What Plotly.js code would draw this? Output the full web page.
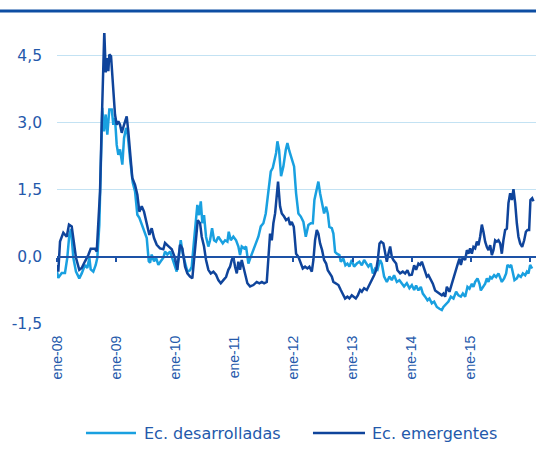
<!DOCTYPE html>
<html><head><meta charset="utf-8">
<script src="https://cdn.plot.ly/plotly-3.0.1.min.js"></script>
<style>html,body{margin:0;padding:0;background:#fff}</style>
</head><body><div id="chart" style="width:536px;height:461px"></div>
<script>
const seriesNames = ['Ec. desarrolladas', 'Ec. emergentes'];
const yearTicks = [2008, 2009, 2010, 2011, 2012, 2013, 2014, 2015, 2016];
const yearLabels = ['ene-08', 'ene-09', 'ene-10', 'ene-11', 'ene-12', 'ene-13', 'ene-14', 'ene-15', 'ene-16'];
const yTicks = [-1.5, 0, 1.5, 3, 4.5];
const yTickLabels = ['-1,5', '0,0', '1,5', '3,0', '4,5'];

const desarrolladasT = [2008.000,2008.022,2008.080,2008.135,2008.174,2008.208,2008.237,2008.276,2008.321,2008.377,
2008.418,2008.474,2008.513,2008.547,2008.570,2008.614,2008.655,2008.682,2008.716,2008.745,
2008.766,2008.795,2008.824,2008.851,2008.885,2008.926,2008.953,2008.981,2009.010,2009.037,
2009.066,2009.105,2009.134,2009.168,2009.196,2009.235,2009.281,2009.320,2009.359,2009.393,
2009.433,2009.472,2009.518,2009.552,2009.574,2009.602,2009.641,2009.675,2009.714,2009.755,
2009.799,2009.827,2009.866,2009.912,2009.958,2009.997,2010.025,2010.064,2010.093,2010.127,
2010.166,2010.205,2010.250,2010.279,2010.318,2010.347,2010.374,2010.403,2010.432,2010.459,
2010.487,2010.521,2010.560,2010.589,2010.623,2010.657,2010.690,2010.729,2010.770,2010.804,
2010.843,2010.882,2010.905,2010.939,2010.983,2011.029,2011.068,2011.096,2011.125,2011.164,
2011.198,2011.237,2011.277,2011.321,2011.367,2011.406,2011.447,2011.491,2011.531,2011.558,
2011.587,2011.616,2011.650,2011.677,2011.706,2011.728,2011.756,2011.790,2011.829,2011.870,
2011.897,2011.931,2011.971,2011.988,2012.010,2012.044,2012.083,2012.124,2012.168,2012.208,
2012.252,2012.293,2012.327,2012.354,2012.394,2012.421,2012.450,2012.489,2012.518,2012.552,
2012.580,2012.607,2012.648,2012.675,2012.704,2012.733,2012.777,2012.800,2012.844,2012.878,
2012.912,2012.946,2012.986,2013.025,2013.071,2013.115,2013.156,2013.195,2013.228,2013.267,
2013.308,2013.342,2013.381,2013.420,2013.465,2013.494,2013.533,2013.579,2013.623,2013.663,
2013.702,2013.748,2013.792,2013.832,2013.871,2013.917,2013.961,2014.002,2014.041,2014.074,
2014.113,2014.154,2014.188,2014.227,2014.266,2014.299,2014.340,2014.379,2014.425,2014.469,
2014.509,2014.536,2014.582,2014.621,2014.662,2014.706,2014.751,2014.790,2014.831,2014.865,
2014.904,2014.943,2014.977,2015.017,2015.044,2015.073,2015.112,2015.146,2015.169,2015.203,
2015.242,2015.271,2015.298,2015.327,2015.355,2015.394,2015.428,2015.467,2015.496,2015.524,
2015.563,2015.597,2015.619,2015.653,2015.682,2015.711,2015.738,2015.778,2015.805,2015.846,
2015.880,2015.919,2015.948,2015.975,2016.003,2016.037];
const desarrolladasV = [-0.33,-0.47,-0.36,-0.36,-0.02,0.49,0.62,-0.02,-0.33,-0.48,
-0.37,-0.18,-0.25,-0.02,-0.28,-0.33,-0.18,-0.02,0.72,2.20,
3.33,2.80,3.18,2.73,3.29,3.29,2.95,3.10,2.50,2.28,
2.40,2.06,2.65,2.88,2.73,2.20,1.66,1.46,0.94,0.87,
0.72,0.58,0.42,-0.10,-0.13,0.05,-0.10,-0.02,-0.18,-0.10,
-0.02,0.12,0.05,0.12,-0.07,-0.20,-0.33,0.07,0.37,0.07,
-0.15,-0.33,-0.30,-0.22,0.37,0.75,1.16,0.93,1.24,0.75,
0.93,0.45,0.23,0.37,0.64,0.37,0.34,0.45,0.37,0.30,
0.37,0.34,0.56,0.37,0.45,0.37,0.23,0.04,0.23,0.19,
0.23,-0.15,0.00,0.15,0.30,0.45,0.68,0.75,0.97,1.27,
1.72,1.91,1.99,2.17,2.32,2.58,2.39,1.80,2.02,2.39,
2.54,2.36,2.21,2.10,2.02,1.42,0.97,0.90,0.78,0.45,
0.71,0.75,0.75,1.27,1.57,1.68,1.42,1.12,0.97,1.12,
0.97,0.67,0.64,0.52,0.11,0.07,0.04,-0.11,-0.04,-0.19,
-0.15,-0.22,-0.07,-0.22,-0.15,-0.11,-0.19,-0.07,-0.15,-0.22,
-0.15,-0.37,-0.26,-0.29,-0.07,-0.15,-0.44,-0.56,-0.44,-0.52,
-0.41,-0.56,-0.52,-0.59,-0.66,-0.59,-0.70,-0.63,-0.74,-0.64,
-0.75,-0.67,-0.82,-0.89,-0.97,-0.93,-1.04,-1.00,-1.12,-1.16,
-1.19,-1.12,-1.04,-1.00,-0.89,-0.93,-0.78,-0.86,-0.89,-0.82,
-0.89,-0.67,-0.71,-0.60,-0.67,-0.56,-0.48,-0.60,-0.75,-0.67,
-0.60,-0.48,-0.56,-0.45,-0.48,-0.41,-0.45,-0.37,-0.48,-0.56,
-0.48,-0.37,-0.18,-0.22,-0.18,-0.37,-0.52,-0.48,-0.41,-0.45,
-0.37,-0.41,-0.33,-0.37,-0.18,-0.26];

const emergentesT = [2008.000,2008.022,2008.051,2008.107,2008.164,2008.203,2008.249,2008.288,2008.321,2008.377,
2008.418,2008.474,2008.530,2008.570,2008.643,2008.672,2008.699,2008.728,2008.756,2008.783,
2008.800,2008.824,2008.851,2008.868,2008.885,2008.914,2008.953,2008.981,2009.010,2009.037,
2009.066,2009.095,2009.122,2009.151,2009.179,2009.206,2009.235,2009.274,2009.320,2009.359,
2009.393,2009.433,2009.472,2009.518,2009.562,2009.602,2009.641,2009.687,2009.743,2009.799,
2009.827,2009.883,2009.941,2009.997,2010.036,2010.081,2010.120,2010.166,2010.205,2010.250,
2010.289,2010.318,2010.352,2010.381,2010.420,2010.448,2010.487,2010.521,2010.560,2010.601,
2010.645,2010.690,2010.729,2010.770,2010.814,2010.860,2010.898,2010.927,2010.956,2010.983,
2011.012,2011.041,2011.068,2011.096,2011.125,2011.152,2011.181,2011.220,2011.266,2011.321,
2011.379,2011.423,2011.464,2011.503,2011.548,2011.575,2011.604,2011.633,2011.660,2011.689,
2011.717,2011.739,2011.773,2011.802,2011.841,2011.875,2011.914,2011.942,2011.971,2012.005,
2012.020,2012.044,2012.083,2012.124,2012.157,2012.196,2012.235,2012.269,2012.310,2012.337,
2012.365,2012.394,2012.421,2012.450,2012.484,2012.518,2012.552,2012.580,2012.607,2012.648,
2012.675,2012.721,2012.760,2012.800,2012.834,2012.873,2012.912,2012.946,2012.986,2013.014,
2013.054,2013.088,2013.127,2013.156,2013.195,2013.240,2013.284,2013.325,2013.364,2013.398,
2013.426,2013.455,2013.482,2013.521,2013.550,2013.579,2013.606,2013.635,2013.663,2013.690,
2013.736,2013.758,2013.804,2013.849,2013.888,2013.927,2013.961,2014.002,2014.041,2014.074,
2014.113,2014.142,2014.171,2014.198,2014.227,2014.256,2014.283,2014.323,2014.357,2014.396,
2014.425,2014.469,2014.509,2014.536,2014.565,2014.594,2014.638,2014.679,2014.717,2014.751,
2014.780,2014.807,2014.831,2014.865,2014.904,2014.933,2014.960,2014.988,2015.017,2015.044,
2015.073,2015.102,2015.129,2015.157,2015.186,2015.213,2015.242,2015.271,2015.298,2015.327,
2015.355,2015.382,2015.411,2015.440,2015.467,2015.496,2015.524,2015.551,2015.580,2015.609,
2015.636,2015.665,2015.694,2015.721,2015.750,2015.778,2015.805,2015.834,2015.868,2015.902,
2015.931,2015.958,2015.986,2016.008,2016.037,2016.059];
const emergentesV = [-0.18,-0.33,0.34,0.54,0.45,0.72,0.68,0.34,-0.02,-0.29,
-0.25,-0.10,0.04,0.18,0.18,0.12,0.72,1.46,2.95,4.30,
5.04,4.12,4.44,4.15,4.52,4.48,3.70,3.18,2.95,3.03,
2.95,2.77,2.90,3.03,3.14,2.80,2.36,1.76,1.61,1.39,
1.01,1.13,1.01,0.72,0.49,0.64,0.42,0.27,0.19,0.17,
0.31,0.24,0.17,-0.03,-0.29,0.27,0.19,-0.22,-0.37,-0.44,
-0.48,-0.07,0.37,0.82,0.75,0.45,0.23,-0.07,-0.29,-0.37,
-0.33,-0.40,-0.52,-0.59,-0.52,-0.45,-0.29,-0.22,-0.07,0.00,
-0.22,-0.37,-0.11,-0.29,-0.07,-0.22,-0.37,-0.59,-0.66,-0.63,
-0.56,-0.59,-0.56,-0.59,-0.56,0.00,0.52,0.37,0.75,0.97,
1.49,1.68,1.13,0.97,0.90,0.82,0.86,0.71,0.78,0.67,
0.45,0.07,0.00,-0.15,-0.26,-0.22,-0.26,-0.22,-0.33,-0.07,
0.37,0.60,0.52,0.30,0.15,-0.07,-0.15,-0.30,-0.37,-0.44,
-0.56,-0.59,-0.63,-0.74,-0.82,-0.93,-0.89,-0.93,-0.86,-0.89,
-0.93,-0.86,-0.74,-0.78,-0.70,-0.74,-0.63,-0.52,-0.41,-0.30,
-0.07,0.30,0.34,0.30,0.07,-0.11,0.07,0.23,0.00,-0.07,
-0.15,-0.30,-0.37,-0.33,-0.37,-0.30,-0.41,-0.40,-0.19,-0.29,
-0.15,-0.18,-0.11,-0.22,-0.29,-0.44,-0.41,-0.52,-0.60,-0.75,
-0.78,-0.82,-0.86,-0.82,-0.89,-0.67,-0.78,-0.60,-0.41,-0.29,
-0.15,-0.04,-0.18,0.00,-0.07,0.15,0.07,0.19,0.07,0.22,
0.19,0.34,0.26,0.45,0.72,0.56,0.34,0.22,0.15,0.26,
0.04,0.15,0.37,0.34,0.37,0.30,0.07,0.37,0.60,0.63,
1.20,1.42,1.27,1.51,1.20,0.75,0.45,0.30,0.22,0.37,
0.56,0.60,0.60,1.27,1.31,1.24];

const LIGHT = '#19a0e0';
const DARK = '#0f449b';
const AXIS = '#1d52a6';
const TEXT = '#2459ab';
const GRID = '#c3e2f3';
const xRange = [2008.0, 2016.102];
const yRange = [-1.5, 5];

const traces = [
  {x: desarrolladasT, y: desarrolladasV, name: seriesNames[0], type: 'scatter', mode: 'lines',
   line: {color: LIGHT, width: 2.5}, hoverinfo: 'skip'},
  {x: emergentesT, y: emergentesV, name: seriesNames[1], type: 'scatter', mode: 'lines',
   line: {color: DARK, width: 2.5}, hoverinfo: 'skip'},
  // carrier for the zero-crossing axis (no visible marks)
  {x: xRange, y: [null, null], xaxis: 'x2', yaxis: 'y', type: 'scatter', mode: 'lines',
   showlegend: false, hoverinfo: 'skip'}
];

const legY = -0.3746;
const layout = {
  width: 536, height: 461,
  margin: {l: 57, r: 0, t: 33, b: 137, pad: 0},
  paper_bgcolor: '#ffffff', plot_bgcolor: '#ffffff',
  showlegend: false,
  font: {family: 'DejaVu Sans', size: 15.5, color: TEXT},
  xaxis: {range: xRange, tickmode: 'array', tickvals: yearTicks, ticktext: yearLabels, tickangle: -90,
    ticks: '', showgrid: false, zeroline: false, showline: false, ticklabelstandoff: 8,
    tickfont: {family: 'Liberation Sans, Arial', size: 14, color: TEXT}},
  xaxis2: {overlaying: 'x', anchor: 'free', position: (0 - yRange[0]) / (yRange[1] - yRange[0]),
    range: xRange, tickmode: 'array', tickvals: yearTicks, showticklabels: false,
    ticks: 'outside', ticklen: 4, tickwidth: 2, tickcolor: AXIS, layer: 'above traces',
    showline: true, linecolor: AXIS, linewidth: 2.5, showgrid: false, zeroline: false},
  yaxis: {range: yRange, tickmode: 'array', tickvals: yTicks, ticktext: yTickLabels,
    showgrid: true, gridcolor: GRID, gridwidth: 1, zeroline: false, showline: false,
    ticks: '', ticklabelstandoff: 14, tickfont: {family: 'DejaVu Sans', size: 15.5, color: TEXT}},
  shapes: [
    {type: 'line', xref: 'paper', yref: 'paper', x0: -0.12, x1: 1.0, y0: 1.0756, y1: 1.0756,
     line: {color: '#0d4ea3', width: 3}},
    {type: 'line', xref: 'paper', yref: 'paper', x0: 0.0605, x1: 0.1649, y0: legY, y1: legY,
     line: {color: LIGHT, width: 2.5}},
    {type: 'line', xref: 'paper', yref: 'paper', x0: 0.5344, x1: 0.643, y0: legY, y1: legY,
     line: {color: DARK, width: 2.5}}
  ],
  annotations: [
    {xref: 'paper', yref: 'paper', x: 0.1775, y: legY, xanchor: 'left', yanchor: 'middle',
     text: seriesNames[0], showarrow: false, font: {family: 'DejaVu Sans', size: 16, color: TEXT}},
    {xref: 'paper', yref: 'paper', x: 0.6534, y: legY, xanchor: 'left', yanchor: 'middle',
     text: seriesNames[1], showarrow: false, font: {family: 'DejaVu Sans', size: 16, color: TEXT}}
  ]
};

Plotly.newPlot('chart', traces, layout, {staticPlot: true, displayModeBar: false});
</script>
</body></html>
